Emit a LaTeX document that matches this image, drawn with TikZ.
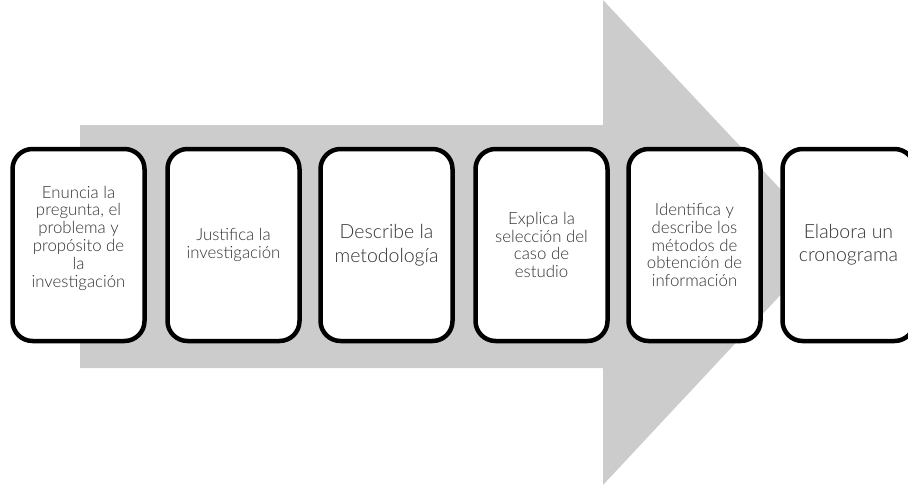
\documentclass[tikz,border=0pt]{standalone}
\usepackage{fontspec}
\setmainfont{Lato Light}
\definecolor{arrowgray}{RGB}{204,204,204}
\definecolor{textgray}{RGB}{50,50,50}
\tikzset{
  stepbox/.style={draw=black, line width=4.5pt, rounded corners=20pt, fill=white,
    minimum width=132pt, minimum height=192pt, inner sep=0pt, align=center,
    text=textgray, font=\fontsize{16.8}{17.8}\selectfont},
  bigtext/.style={font=\fontsize{19.5}{24}\selectfont},
  midtext/.style={font=\fontsize{19.5}{23}\selectfont}
}
\begin{document}
\begin{tikzpicture}[x=1pt,y=-1pt]
\useasboundingbox (0,0) rectangle (908,485);
\clip (0,0) rectangle (908,485);
\fill[arrowgray] (80,125) -- (603,125) -- (603,0) -- (830,242) -- (603,485) -- (603,368) -- (80,368) -- cycle;
\node[stepbox, text depth=17pt] (b1) at (78.5,245) {Enuncia la\\pregunta, el\\problema y\\propósito de\\la\\investigación};
\node[stepbox] (b2) at (233.5,245) {Justifica la\\investigación};
\node[stepbox,bigtext] (b3) at (386.5,245) {Describe la\\metodología};
\node[stepbox] (b4) at (541.5,245) {Explica la\\selección del\\caso de\\estudio};
\node[stepbox] (b5) at (694.5,245) {Identifica y\\describe los\\métodos de\\obtención de\\información};
\node[stepbox,midtext] (b6) at (848.5,245) {Elabora un\\cronograma};
\end{tikzpicture}
\end{document}
